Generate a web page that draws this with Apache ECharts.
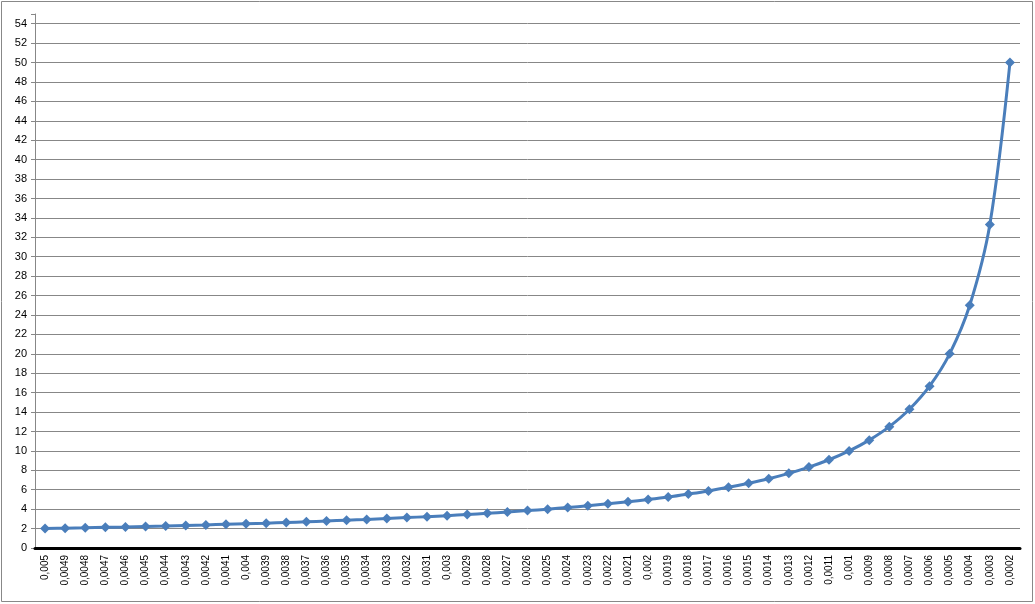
<!DOCTYPE html>
<html>
<head>
<meta charset="utf-8">
<script src="https://cdn.jsdelivr.net/npm/echarts@6/dist/echarts.min.js"></script>
<style>
html,body{margin:0;padding:0;background:#fff;}
#chart{width:1035px;height:604px;}
</style>
</head>
<body>
<div id="chart"></div>
<script>
const categories = ["0,005","0,0049","0,0048","0,0047","0,0046","0,0045","0,0044","0,0043","0,0042","0,0041",
  "0,004","0,0039","0,0038","0,0037","0,0036","0,0035","0,0034","0,0033","0,0032","0,0031",
  "0,003","0,0029","0,0028","0,0027","0,0026","0,0025","0,0024","0,0023","0,0022","0,0021",
  "0,002","0,0019","0,0018","0,0017","0,0016","0,0015","0,0014","0,0013","0,0012","0,0011",
  "0,001","0,0009","0,0008","0,0007","0,0006","0,0005","0,0004","0,0003","0,0002"];
const values = [2.00,2.04,2.08,2.13,2.17,2.22,2.27,2.33,2.38,2.44,
  2.50,2.56,2.63,2.70,2.78,2.86,2.94,3.03,3.13,3.23,
  3.33,3.45,3.57,3.70,3.85,4.00,4.17,4.35,4.55,4.76,
  5.00,5.26,5.56,5.88,6.25,6.67,7.14,7.69,8.33,9.09,
  10.00,11.11,12.50,14.29,16.67,20.00,25.00,33.33,50.00];
const yTicks = [0,2,4,6,8,10,12,14,16,18,20,22,24,26,28,30,32,34,36,38,40,42,44,46,48,50,52,54];

const chart = echarts.init(document.getElementById('chart'), null, {renderer:'canvas'});
const gridColors = yTicks.map(() => '#878787').concat(['rgba(0,0,0,0)']);
chart.setOption({
  animation:false,
  backgroundColor:'#fff',
  graphic:[{type:'rect',shape:{x:1.5,y:1.5,width:1031,height:600},style:{fill:'none',stroke:'#888',lineWidth:1},z:-1}],
  grid:{left:35,right:15,top:14,bottom:56,containLabel:false},
  xAxis:{
    type:'category',
    data:categories,
    boundaryGap:true,
    axisLine:{show:true,lineStyle:{color:'#000',width:3}},
    axisTick:{show:false},
    axisLabel:{rotate:90,fontSize:10,fontFamily:'Liberation Sans',color:'#000',margin:7,interval:0},
    splitLine:{show:false},
    z:5
  },
  yAxis:{
    type:'value',
    min:0,max:55,interval:2,
    axisLine:{show:true,lineStyle:{color:'#878787',width:1}},
    axisTick:{show:true,inside:false,length:4,lineStyle:{color:'#878787'}},
    axisLabel:{fontSize:11,fontFamily:'Liberation Sans',color:'#000',margin:8,
      formatter:function(v){return yTicks.indexOf(v)>=0? String(v):'';}},
    splitLine:{show:true,lineStyle:{color:gridColors,width:1}}
  },
  series:[{
    type:'line',
    data:values,
    smooth:0.35,
    symbol:'diamond',
    symbolSize:10,
    showAllSymbol:true,
    lineStyle:{color:'#4A7EBB',width:3},
    itemStyle:{color:'#4A7EBB'},
    z:3
  }]
});
</script>
</body>
</html>
